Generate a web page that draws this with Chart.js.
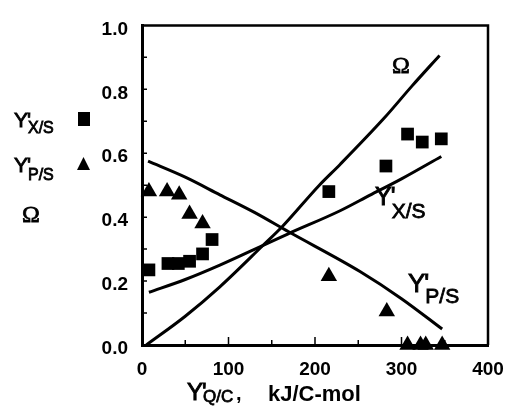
<!DOCTYPE html>
<html>
<head>
<meta charset="utf-8">
<script src="https://cdn.jsdelivr.net/npm/chart.js@4/dist/chart.umd.min.js"></script>
<style>
  html, body { margin: 0; padding: 0; background: #fff; }
  #wrap { width: 520px; height: 419px; }
</style>
</head>
<body>
<div id="wrap"><canvas id="chart"></canvas></div>
<script>
// measured points, Y'X/S (squares) and Y'P/S (triangles)
const sqX = [8, 30, 42, 55, 70, 81, 216, 282, 307, 324, 346];
const sqY = [0.235, 0.255, 0.255, 0.262, 0.285, 0.33, 0.48, 0.56, 0.66, 0.635, 0.645];
const triX = [8, 29, 43, 55, 70, 216, 283, 307, 322, 328, 347];
const triY = [0.48, 0.48, 0.47, 0.41, 0.38, 0.215, 0.105, 0, 0, 0, 0];

// model curves
const omegaX = [5, 50, 90, 140, 162, 205, 229, 280, 312, 344];
const omegaY = [0, 0.09, 0.182, 0.312, 0.37, 0.5, 0.565, 0.71, 0.81, 0.906];
const xsX = [8, 50, 90, 140, 169, 229, 263, 300, 346];
const xsY = [0.165, 0.205, 0.25, 0.312, 0.348, 0.42, 0.468, 0.52, 0.59];
const psX = [7, 50, 90, 130, 169, 252, 300, 347];
const psY = [0.575, 0.525, 0.47, 0.415, 0.355, 0.23, 0.145, 0.05];

const xMinor = [50, 100, 150, 200, 250, 300, 350];
const yMinor = [0.1, 0.2, 0.3, 0.4, 0.5, 0.6, 0.7, 0.8, 0.9];

const pts = (xs, ys) => xs.map((x, i) => ({ x: x, y: ys[i] }));

const SANS = '"Liberation Sans", Arial, sans-serif';
const SERIF = '"Liberation Serif", "Times New Roman", serif';

// text a bit heavier, like the scanned original
function heavy(ctx, s, x, y, lw) {
    ctx.fillText(s, x, y);
    ctx.lineWidth = lw;
    ctx.strokeText(s, x, y);
}

// Y' with subscript
function yPrime(ctx, x, base, sub, big, small, drop) {
    ctx.font = big + 'px ' + SANS;
    heavy(ctx, 'Y', x, base, 0.9);
    const w = ctx.measureText('Y').width;
    heavy(ctx, "'", x + w - 1, base, 0.9);
    ctx.font = small + 'px ' + SANS;
    heavy(ctx, sub, x + w, base + drop, 0.8);
}

const decor = {
    id: 'decor',
    afterDatasetsDraw(chart) {
        const ctx = chart.ctx;
        const a = chart.chartArea;
        const sx = chart.scales.x, sy = chart.scales.y;
        ctx.save();
        ctx.strokeStyle = '#000';
        ctx.fillStyle = '#000';

        // top + right frame
        ctx.lineWidth = 2.5;
        ctx.beginPath();
        ctx.moveTo(a.left, a.top);
        ctx.lineTo(a.right, a.top);
        ctx.lineTo(a.right, a.bottom);
        ctx.stroke();

        // inward ticks
        ctx.lineWidth = 1.5;
        ctx.beginPath();
        yMinor.forEach(v => {
            const p = sy.getPixelForValue(v);
            ctx.moveTo(a.left, p);
            ctx.lineTo(a.left + 5, p);
        });
        xMinor.forEach(v => {
            const p = sx.getPixelForValue(v);
            ctx.moveTo(p, a.bottom);
            ctx.lineTo(p, a.bottom - (v % 100 === 0 ? 8 : 5));
        });
        ctx.stroke();

        ctx.textBaseline = 'alphabetic';
        ctx.textAlign = 'left';

        // labels inside plot
        ctx.font = '24px ' + SERIF;
        heavy(ctx, 'Ω', 392, 73, 0.8);
        yPrime(ctx, 375, 205, 'X/S', 25, 21, 13);
        yPrime(ctx, 408, 292, 'P/S', 26, 21, 11);

        // left legend
        yPrime(ctx, 14, 127, 'X/S', 21, 16, 6);
        ctx.fillRect(78, 112, 12, 14);
        yPrime(ctx, 14, 172, 'P/S', 21, 16, 8);
        ctx.beginPath();
        ctx.moveTo(77, 170);
        ctx.lineTo(90, 170);
        ctx.lineTo(83.5, 157);
        ctx.closePath();
        ctx.fill();
        ctx.font = '24px ' + SERIF;
        heavy(ctx, 'Ω', 22, 222, 0.8);

        // x axis title
        yPrime(ctx, 187, 400, 'Q/C', 24, 17, 2);
        ctx.font = 'bold 20px ' + SANS;
        ctx.fillText(',', 236, 400);
        ctx.font = 'bold 22px ' + SANS;
        ctx.fillText('kJ/C-mol', 268, 401);
        ctx.restore();
    }
};

const curve = (data) => ({
    data: data,
    showLine: true,
    borderColor: '#000',
    borderWidth: 3,
    pointRadius: 0,
    tension: 0.4,
    cubicInterpolationMode: 'monotone',
    clip: false
});

new Chart(document.getElementById('chart'), {
    type: 'scatter',
    data: {
        datasets: [
            curve(pts(omegaX, omegaY)),
            curve(pts(xsX, xsY)),
            curve(pts(psX, psY)),
            {
                data: pts(sqX, sqY),
                pointStyle: 'rect',
                pointRadius: 9,
                backgroundColor: '#000',
                borderColor: '#000',
                borderWidth: 0,
                clip: false
            },
            {
                data: pts(triX, triY),
                pointStyle: 'triangle',
                pointRadius: 9.5,
                backgroundColor: '#000',
                borderColor: '#000',
                borderWidth: 0,
                clip: false
            }
        ]
    },
    options: {
        responsive: true,
        maintainAspectRatio: false,
        animation: false,
        layout: { padding: { top: 15, right: 32, left: 0, bottom: 0 } },
        plugins: {
            legend: { display: false },
            tooltip: { enabled: false }
        },
        scales: {
            x: {
                type: 'linear',
                min: 0,
                max: 400,
                grid: { display: false, drawTicks: false },
                border: { display: true, color: '#000', width: 3 },
                ticks: {
                    stepSize: 100,
                    color: '#000',
                    padding: 13,
                    font: { family: SANS, size: 19, weight: 'bold' }
                },
                afterFit: s => { s.height = 74; }
            },
            y: {
                min: 0,
                max: 1,
                grid: { display: false, drawTicks: false },
                border: { display: true, color: '#000', width: 3 },
                ticks: {
                    stepSize: 0.2,
                    color: '#000',
                    padding: 14,
                    labelOffset: 4,
                    font: { family: SANS, size: 19, weight: 'bold' },
                    callback: v => v.toFixed(1)
                },
                afterFit: s => { s.width = 142; }
            }
        }
    },
    plugins: [decor]
});
</script>
</body>
</html>
